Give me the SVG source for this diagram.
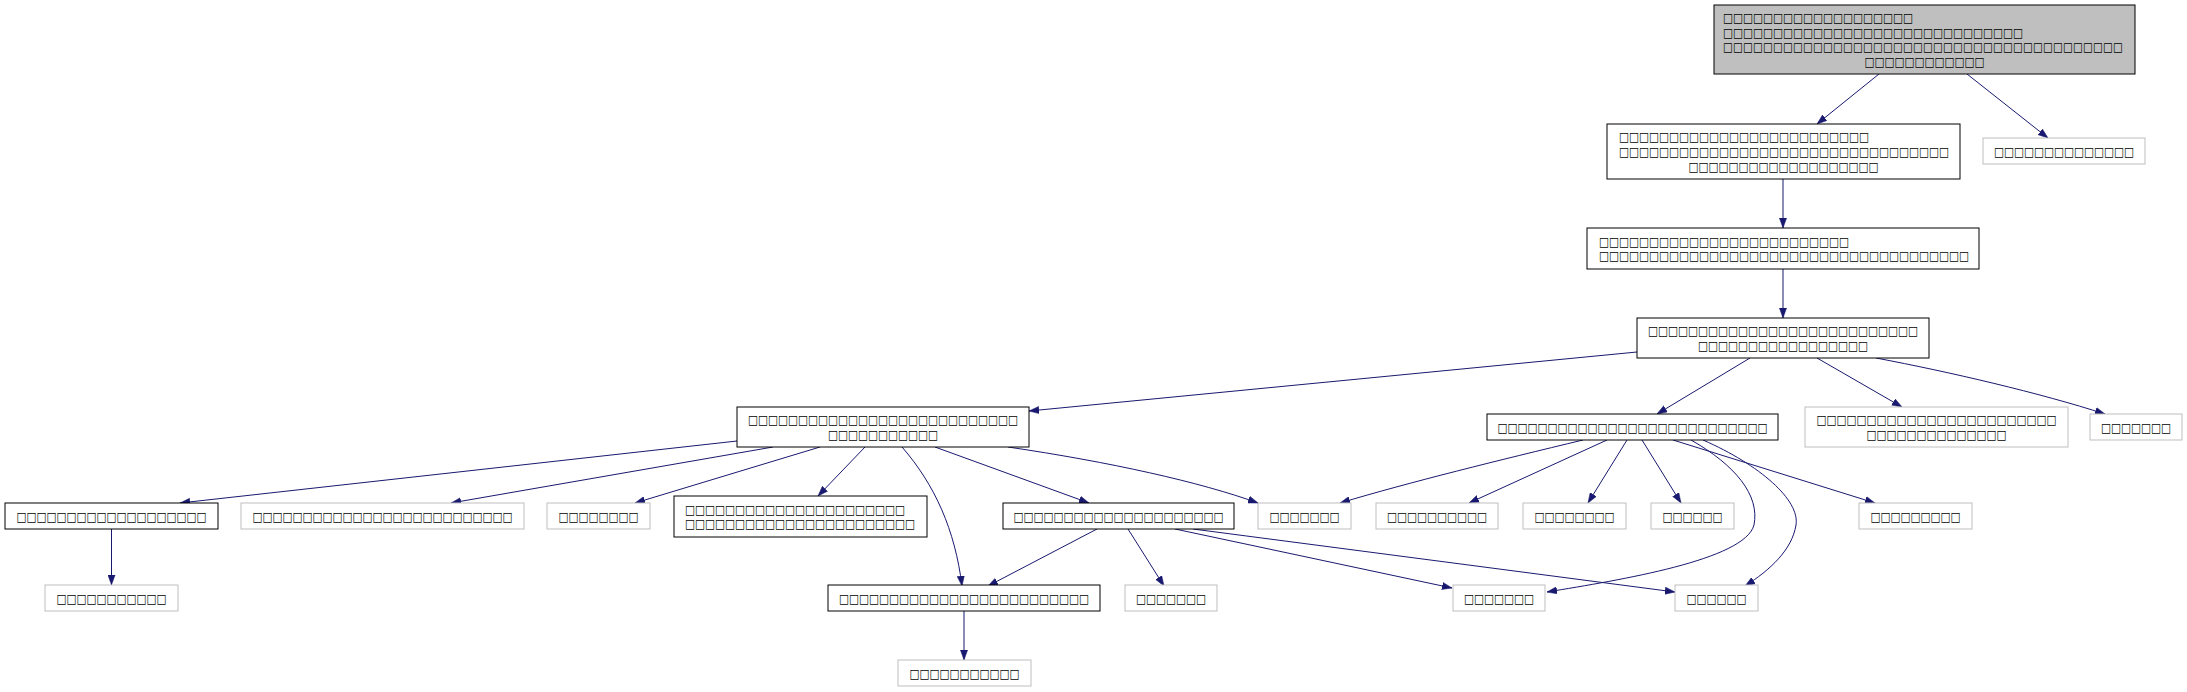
<svg xmlns="http://www.w3.org/2000/svg" width="2187" height="692" viewBox="0 0 2187 692">
<style>
.n{fill:#fff;stroke:#000;stroke-width:1}
.g{fill:#fff;stroke:#bfbfbf;stroke-width:1}
.t{fill:#bfbfbf;stroke:#000;stroke-width:1}
text{font-family:"DejaVu Sans",sans-serif;font-size:12.5px;fill:#000}
.c{text-anchor:middle}
.s{font-size:12px}
.e path{fill:none;stroke:#191970;stroke-width:1;marker-end:url(#a)}
</style>
<defs>
<marker id="a" markerUnits="userSpaceOnUse" markerWidth="10" markerHeight="8" refX="10" refY="4" orient="auto"><path d="M0,0.4 L10,4 L0,7.6 z" fill="#191970" stroke="#191970" stroke-width="0.5"/></marker>
</defs>
<g class="e" id="edges">
<path d="M1879,74 L1817,124"/>
<path d="M1967,74 L2048,138"/>
<path d="M1783,179 L1783,228"/>
<path d="M1783,269 L1783,318"/>
<path d="M1637,352 L1029,411"/>
<path d="M1750,358 L1657,414"/>
<path d="M1817,358 L1902,407"/>
<path d="M1876,358 C1950,372 2040,393 2105,414"/>
<path d="M737,441 L180,503"/>
<path d="M773,447 L451,503"/>
<path d="M820,447 L635,503"/>
<path d="M865,447 L818,496"/>
<path d="M902,447 C935,485 955,530 962,586"/>
<path d="M935,447 L1089,503"/>
<path d="M1008,447 C1110,462 1200,482 1258,503"/>
<path d="M1097,529 L988,586"/>
<path d="M1128,529 L1164,586"/>
<path d="M1175,529 L1452,588"/>
<path d="M1193,529 L1675,592"/>
<path d="M1583,440 C1500,460 1410,482 1340,503"/>
<path d="M1607,440 L1469,503"/>
<path d="M1627,440 L1588,503"/>
<path d="M1642,440 L1681,503"/>
<path d="M1673,440 L1875,503"/>
<path d="M1691,440 C1735,465 1760,495 1754,525 C1745,560 1620,580 1547,592"/>
<path d="M1703,440 C1760,465 1800,500 1796,525 C1792,550 1770,570 1745,586"/>
<path d="M964,611 L964,660"/>
<path d="M111.5,529 L111.5,585"/>
</g>
<g id="T"><rect class="t" x="1714" y="5" width="421" height="69"/>
<text x="1723" y="22.1" textLength="190" lengthAdjust="spacingAndGlyphs">□□□□□□□□□□□□□□□□□□□</text>
<text x="1723" y="36.7" textLength="300" lengthAdjust="spacingAndGlyphs">□□□□□□□□□□□□□□□□□□□□□□□□□□□□□□</text>
<text class="s" x="1723" y="51.3" textLength="400" lengthAdjust="spacingAndGlyphs">□□□□□□□□□□□□□□□□□□□□□□□□□□□□□□□□□□□□□□□□</text>
<text class="c" x="1924.5" y="65.9" textLength="120" lengthAdjust="spacingAndGlyphs">□□□□□□□□□□□□</text></g>
<g id="N2"><rect class="n" x="1607" y="124" width="353" height="55"/>
<text x="1619" y="141.4" textLength="250" lengthAdjust="spacingAndGlyphs">□□□□□□□□□□□□□□□□□□□□□□□□□</text>
<text x="1619" y="156" textLength="330" lengthAdjust="spacingAndGlyphs">□□□□□□□□□□□□□□□□□□□□□□□□□□□□□□□□□</text>
<text class="c" x="1783.5" y="170.6" textLength="190" lengthAdjust="spacingAndGlyphs">□□□□□□□□□□□□□□□□□□□</text></g>
<g id="R1"><rect class="g" x="1983" y="138" width="162" height="26"/>
<text class="c" x="2064" y="155.5" textLength="140" lengthAdjust="spacingAndGlyphs">□□□□□□□□□□□□□□</text></g>
<g id="N3"><rect class="n" x="1587" y="228" width="392" height="41"/>
<text x="1599" y="245.7" textLength="250" lengthAdjust="spacingAndGlyphs">□□□□□□□□□□□□□□□□□□□□□□□□□</text>
<text x="1599" y="260.3" textLength="370" lengthAdjust="spacingAndGlyphs">□□□□□□□□□□□□□□□□□□□□□□□□□□□□□□□□□□□□□</text></g>
<g id="N4"><rect class="n" x="1637" y="318" width="292" height="40"/>
<text class="c" x="1783" y="335.2" textLength="270" lengthAdjust="spacingAndGlyphs">□□□□□□□□□□□□□□□□□□□□□□□□□□□</text>
<text class="c" x="1783" y="349.8" textLength="170" lengthAdjust="spacingAndGlyphs">□□□□□□□□□□□□□□□□□</text></g>
<g id="N5"><rect class="n" x="737" y="407" width="292" height="40"/>
<text class="c" x="883" y="424.2" textLength="270" lengthAdjust="spacingAndGlyphs">□□□□□□□□□□□□□□□□□□□□□□□□□□□</text>
<text class="c" x="883" y="438.8" textLength="110" lengthAdjust="spacingAndGlyphs">□□□□□□□□□□□</text></g>
<g id="N6"><rect class="n" x="1487" y="414" width="291" height="26"/>
<text class="c" x="1632.5" y="431.5" textLength="270" lengthAdjust="spacingAndGlyphs">□□□□□□□□□□□□□□□□□□□□□□□□□□□</text></g>
<g id="G1"><rect class="g" x="1805" y="407" width="263" height="40"/>
<text class="c" x="1936.5" y="424.2" textLength="240" lengthAdjust="spacingAndGlyphs">□□□□□□□□□□□□□□□□□□□□□□□□</text>
<text class="c" x="1936.5" y="438.8" textLength="140" lengthAdjust="spacingAndGlyphs">□□□□□□□□□□□□□□</text></g>
<g id="G2"><rect class="g" x="2090" y="414" width="92" height="26"/>
<text class="c" x="2136" y="431.5" textLength="70" lengthAdjust="spacingAndGlyphs">□□□□□□□</text></g>
<g id="N7"><rect class="n" x="5" y="503" width="213" height="26"/>
<text class="c" x="111.5" y="520.5" textLength="190" lengthAdjust="spacingAndGlyphs">□□□□□□□□□□□□□□□□□□□</text></g>
<g id="G3"><rect class="g" x="241" y="503" width="283" height="26"/>
<text class="c" x="382.5" y="520.5" textLength="260" lengthAdjust="spacingAndGlyphs">□□□□□□□□□□□□□□□□□□□□□□□□□□</text></g>
<g id="G4"><rect class="g" x="547" y="503" width="103" height="26"/>
<text class="c" x="598.5" y="520.5" textLength="80" lengthAdjust="spacingAndGlyphs">□□□□□□□□</text></g>
<g id="N8"><rect class="n" x="674" y="496" width="253" height="41"/>
<text x="685" y="513.7" textLength="220" lengthAdjust="spacingAndGlyphs">□□□□□□□□□□□□□□□□□□□□□□</text>
<text x="685" y="528.3" textLength="230" lengthAdjust="spacingAndGlyphs">□□□□□□□□□□□□□□□□□□□□□□□</text></g>
<g id="N9"><rect class="n" x="1003" y="503" width="231" height="26"/>
<text class="c" x="1118.5" y="520.5" textLength="210" lengthAdjust="spacingAndGlyphs">□□□□□□□□□□□□□□□□□□□□□</text></g>
<g id="G5"><rect class="g" x="1258" y="503" width="93" height="26"/>
<text class="c" x="1304.5" y="520.5" textLength="70" lengthAdjust="spacingAndGlyphs">□□□□□□□</text></g>
<g id="G6"><rect class="g" x="1376" y="503" width="122" height="26"/>
<text class="c" x="1437" y="520.5" textLength="100" lengthAdjust="spacingAndGlyphs">□□□□□□□□□□</text></g>
<g id="G7"><rect class="g" x="1523" y="503" width="103" height="26"/>
<text class="c" x="1574.5" y="520.5" textLength="80" lengthAdjust="spacingAndGlyphs">□□□□□□□□</text></g>
<g id="G8"><rect class="g" x="1651" y="503" width="83" height="26"/>
<text class="c" x="1692.5" y="520.5" textLength="60" lengthAdjust="spacingAndGlyphs">□□□□□□</text></g>
<g id="G9"><rect class="g" x="1859" y="503" width="113" height="26"/>
<text class="c" x="1915.5" y="520.5" textLength="90" lengthAdjust="spacingAndGlyphs">□□□□□□□□□</text></g>
<g id="G10"><rect class="g" x="45" y="585" width="133" height="26"/>
<text class="c" x="111.5" y="602.5" textLength="110" lengthAdjust="spacingAndGlyphs">□□□□□□□□□□□</text></g>
<g id="N10"><rect class="n" x="828" y="585" width="272" height="26"/>
<text class="c" x="964" y="602.5" textLength="250" lengthAdjust="spacingAndGlyphs">□□□□□□□□□□□□□□□□□□□□□□□□□</text></g>
<g id="G11"><rect class="g" x="1125" y="585" width="92" height="26"/>
<text class="c" x="1171" y="602.5" textLength="70" lengthAdjust="spacingAndGlyphs">□□□□□□□</text></g>
<g id="G12"><rect class="g" x="1453" y="585" width="92" height="26"/>
<text class="c" x="1499" y="602.5" textLength="70" lengthAdjust="spacingAndGlyphs">□□□□□□□</text></g>
<g id="G13"><rect class="g" x="1675" y="585" width="83" height="26"/>
<text class="c" x="1716.5" y="602.5" textLength="60" lengthAdjust="spacingAndGlyphs">□□□□□□</text></g>
<g id="G14"><rect class="g" x="898" y="660" width="133" height="26"/>
<text class="c" x="964.5" y="677.5" textLength="110" lengthAdjust="spacingAndGlyphs">□□□□□□□□□□□</text></g>
</svg>
